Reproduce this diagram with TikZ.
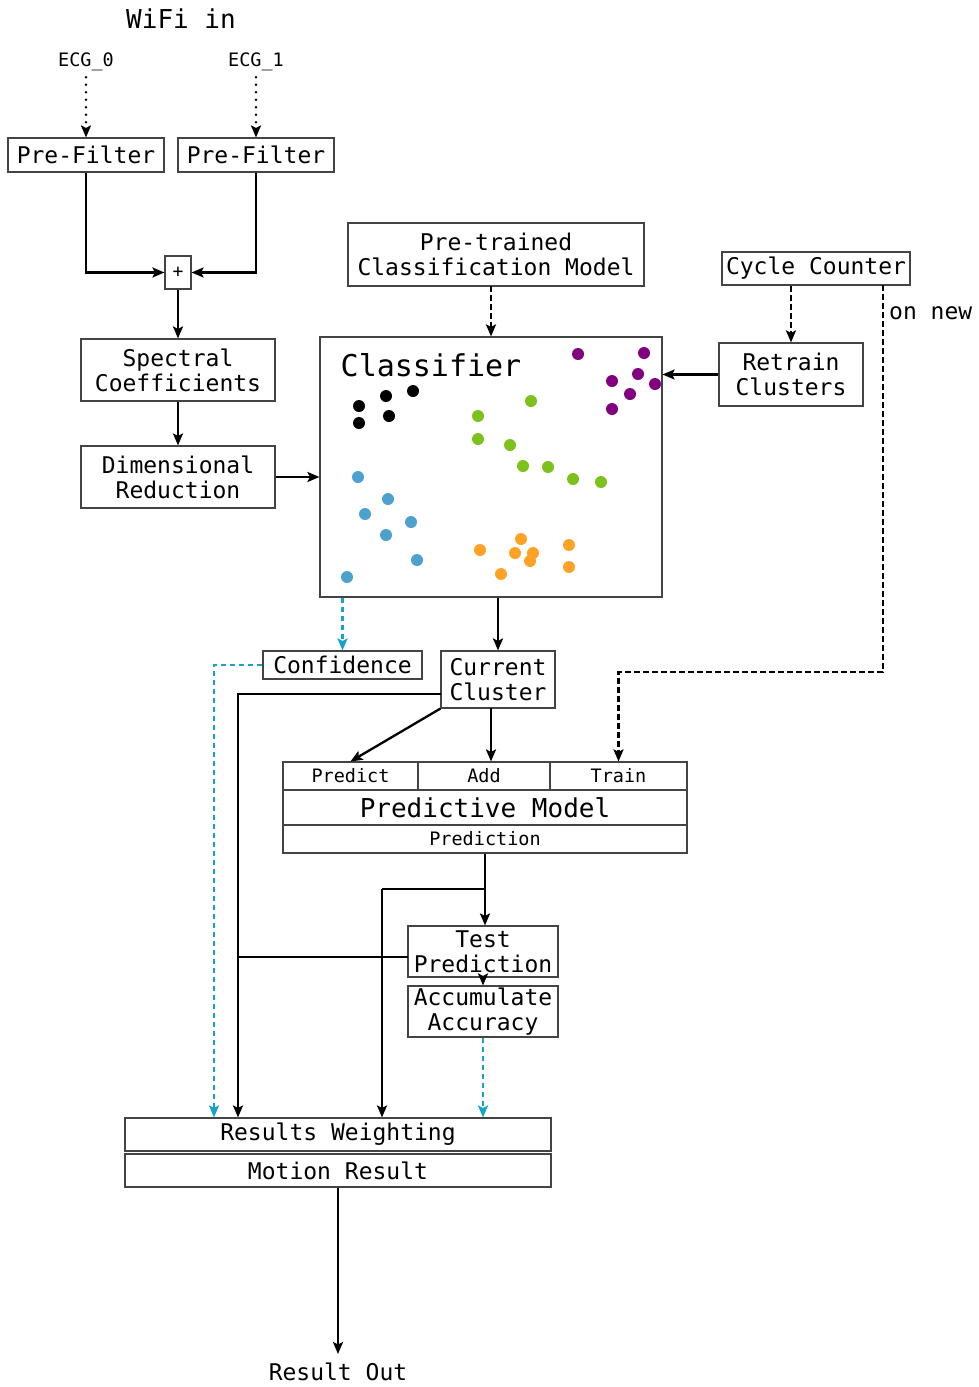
\documentclass[tikz,border=0pt]{standalone}
\usepackage{fontspec}
\setmainfont{DejaVu Sans Mono}
\usetikzlibrary{arrows.meta,calc}
\definecolor{edgegray}{HTML}{444444}
\definecolor{linkcyan}{HTML}{17A2C8}
\definecolor{dotpurple}{HTML}{800080}
\definecolor{dotgreen}{HTML}{7CC11C}
\definecolor{dotblue}{HTML}{4DA2CD}
\definecolor{dotorange}{HTML}{FFA226}
\begin{document}
\begin{tikzpicture}[x=1pt,y=-1pt,
  box/.style={draw=edgegray, line width=1.1pt, inner sep=0pt, align=center,
              font=\fontsize{23}{25}\selectfont},
  smallbox/.style={box, font=\fontsize{18.5}{20}\selectfont},
  lbl/.style={inner sep=0pt, align=center, font=\fontsize{23}{25}\selectfont},
  tip/.style={-{Stealth[length=12pt,width=10pt,inset=2.5pt]}},
  link/.style={line width=2.3pt},
  conn/.style={link, tip},
  dashconn/.style={conn, dash pattern=on 6pt off 3pt},
  cyanconn/.style={conn, draw=linkcyan, dash pattern=on 5pt off 4pt},
  dotconn/.style={conn, line cap=round, dash pattern=on 0pt off 7.5pt, line width=2.8pt},
  pt/.style={radius=6pt}
]
\useasboundingbox (0,0) rectangle (978,1387);

% --- inputs and pre-processing ---
\node[lbl, font=\fontsize{26}{28}\selectfont] (wifi) at (181,19) {WiFi in};
\node[lbl, font=\fontsize{18.5}{20}\selectfont] (ecg0) at (86,62) {ECG\_0};
\node[lbl, font=\fontsize{18.5}{20}\selectfont] (ecg1) at (256,62) {ECG\_1};
\node[box, minimum width=156, minimum height=34] (pf0) at (86,155) {Pre-Filter};
\node[box, minimum width=156, minimum height=34] (pf1) at (256,155) {Pre-Filter};
\node[box, minimum width=26, minimum height=33, font=\fontsize{18}{20}\selectfont] (sum) at (178,272.5) {+};
\node[box, minimum width=194, minimum height=62] (spec) at (178,370) {Spectral\\Coefficients};
\node[box, minimum width=194, minimum height=62] (dim) at (178,477) {Dimensional\\Reduction};

% --- classifier ---
\node[box, minimum width=296, minimum height=63] (ptm) at (496,254.5) {Pre-trained\\Classification Model};
\node[box, minimum width=342, minimum height=260] (cls) at (491,467) {};
\node[lbl, font=\fontsize{30}{32}\selectfont] (clsname) at (431,365) {Classifier};
\node[box, minimum width=188, minimum height=33] (cyc) at (816,268.5) {Cycle Counter};
\node[box, minimum width=144, minimum height=63] (ret) at (791,374.5) {Retrain\\Clusters};
\node[lbl, anchor=west] (onnew) at (889,313) {on new};

% cluster points
\fill[dotpurple] (578,354) circle[pt] (644,353) circle[pt] (638,374) circle[pt]
  (612,381) circle[pt] (655,384) circle[pt] (630,394) circle[pt] (612,409) circle[pt];
\fill[black] (413,391) circle[pt] (386,396) circle[pt] (359,406) circle[pt]
  (389,416) circle[pt] (359,423) circle[pt];
\fill[dotgreen] (531,401) circle[pt] (478,416) circle[pt] (478,439) circle[pt]
  (510,445) circle[pt] (523,466) circle[pt] (548,467) circle[pt] (573,479) circle[pt]
  (601,482) circle[pt];
\fill[dotblue] (358,477) circle[pt] (388,499) circle[pt] (365,514) circle[pt]
  (411,522) circle[pt] (386,535) circle[pt] (417,560) circle[pt] (347,577) circle[pt];
\fill[dotorange] (521,539) circle[pt] (480,550) circle[pt] (515,553) circle[pt]
  (533,553) circle[pt] (530,561) circle[pt] (569,545) circle[pt] (569,567) circle[pt]
  (501,574) circle[pt];

% --- cluster outputs ---
\node[box, minimum width=159, minimum height=28] (conf) at (342.5,665) {Confidence};
\node[box, minimum width=114, minimum height=57] (cur) at (498,679.5) {Current\\Cluster};

% --- predictive model ---
\node[smallbox, minimum width=135, minimum height=28] (pred) at (350.5,776) {Predict};
\node[smallbox, minimum width=132, minimum height=28] (add) at (484,776) {Add};
\node[smallbox, minimum width=137, minimum height=28] (train) at (618.5,776) {Train};
\node[box, font=\fontsize{26}{28}\selectfont, minimum width=404, minimum height=35] (pm) at (485,807.5) {Predictive Model};
\node[smallbox, minimum width=404, minimum height=28] (pdn) at (485,839) {Prediction};

\node[box, minimum width=150, minimum height=51] (tp) at (483,951.5) {Test\\Prediction};
\node[box, minimum width=150, minimum height=51] (acc) at (483,1011.5) {Accumulate\\Accuracy};

% --- results ---
\node[box, minimum width=426, minimum height=33] (rw) at (338,1134.5) {Results Weighting};
\node[box, minimum width=426, minimum height=33] (mr) at (338,1170.5) {Motion Result};
\node[lbl] (out) at (338,1372) {Result Out};

% --- connectors ---
\draw[dotconn] (ecg0.south) ++(0,6) -- (pf0.north);
\draw[dotconn] (ecg1.south) ++(0,6) -- (pf1.north);
\draw[conn] (pf0.south) |- (sum.west);
\draw[conn] (pf1.south) |- (sum.east);
\draw[conn] (sum.south) -- (spec.north);
\draw[conn] (spec.south) -- (dim.north);
\draw[conn] (dim.east) -- (dim.east -| cls.west);

\coordinate (ptmout) at (491,286);
\draw[dashconn] (ptmout) -- (ptmout |- cls.north);
\draw[conn] (ret.west) -- (ret.west -| cls.east);
\draw[dashconn] (ret.north |- cyc.south) -- (ret.north);

\coordinate (cycout) at (883,285);
\coordinate (cycturn) at (883,672);
\draw[dashconn] (cycout) -- (cycturn) -| (train.north);

\draw[conn] (cur.north |- cls.south) -- (cur.north);
\draw[cyanconn] (conf.north |- cls.south) -- (conf.north);

\coordinate (confturn) at (214,665);
\draw[cyanconn] (conf.west) -- (confturn) -- (confturn |- rw.north);

\coordinate (curout) at (441,694);
\coordinate (curturn) at (238,694);
\draw[conn] (curout) -- (curturn) -- (curturn |- rw.north);

\draw[conn] (cur.south west) -- (pred.north);
\coordinate (curadd) at (491,708);
\draw[conn] (curadd) -- (curadd |- add.north);

\draw[conn] (pdn.south) -- (pdn.south |- tp.north);
\coordinate (pdnturn) at (382,889);
\draw[link] (pdn.south |- pdnturn) -- (pdnturn);
\draw[conn] (pdnturn) -- (pdnturn |- rw.north);

\coordinate (tpout) at (408,957);
\draw[link] (tpout) -- (tpout -| curturn);

\draw[conn] (acc.north |- tp.south) -- (acc.north);
\draw[cyanconn] (acc.south) -- (acc.south |- rw.north);

\coordinate (outin) at (338,1354);
\draw[conn] (mr.south) -- (outin);
\end{tikzpicture}
\end{document}
